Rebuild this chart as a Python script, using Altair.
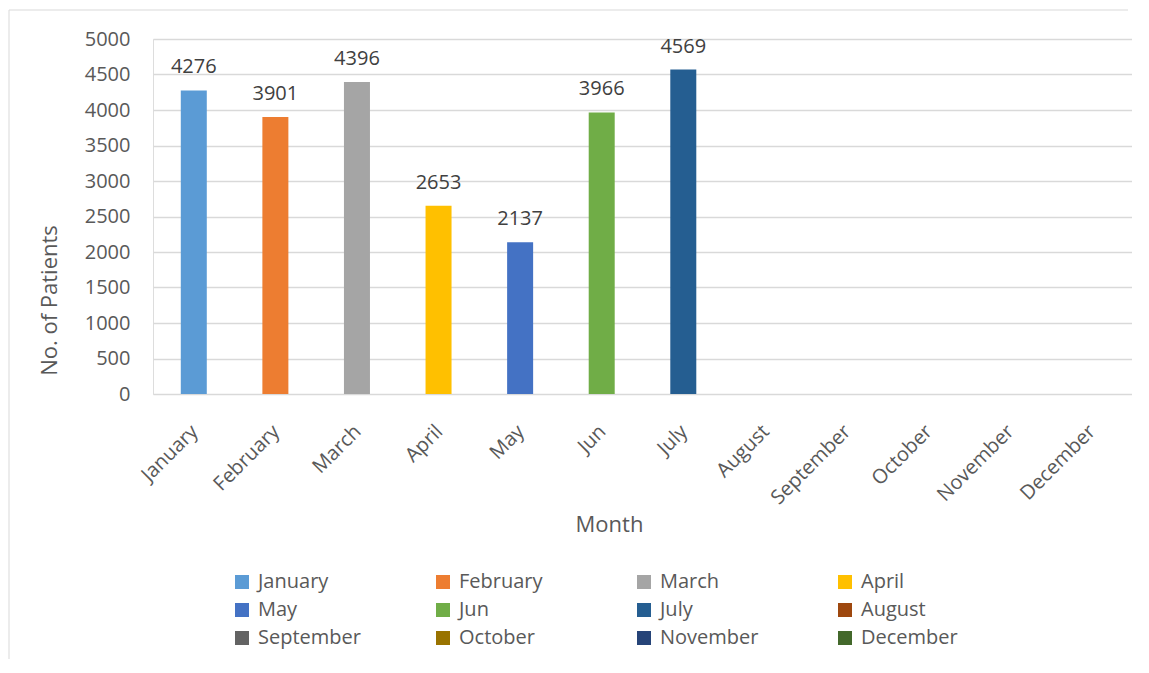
import altair as alt
import pandas as pd

months = ["January", "February", "March", "April", "May", "Jun", "July",
          "August", "September", "October", "November", "December"]
patients = [4276, 3901, 4396, 2653, 2137, 3966, 4569, None, None, None, None, None]
colors = ["#5B9BD5", "#ED7D31", "#A5A5A5", "#FFC000", "#4472C4", "#70AD47",
          "#255E91", "#9E480E", "#636363", "#997300", "#264478", "#43682B"]
y_ticks = list(range(0, 5001, 500))

df = pd.DataFrame({"Month": months, "Patients": patients})

FONT = "Open Sans"
W, H = 979, 355

x_enc = alt.X("Month:N", sort=months,
              scale=alt.Scale(domain=months, paddingInner=0, paddingOuter=0),
              axis=alt.Axis(title="Month", labelAngle=-45, labelFontSize=20,
                            labelColor="#595959", labelFont=FONT, ticks=False,
                            domain=False, labelPadding=27, labelOffset=-6,
                            titleFontSize=22, titleColor="#595959", titleFont=FONT,
                            titleFontWeight="normal", titleX=456, titleY=137,
                            titleAlign="center", titleBaseline="alphabetic"))
y_enc = alt.Y("Patients:Q",
              scale=alt.Scale(domain=[0, 5000], nice=False),
              axis=alt.Axis(title="No. of Patients", values=y_ticks, format="d",
                            labelFontSize=20,
                            labelColor="#595959", labelFont=FONT, ticks=False,
                            domain=False, labelPadding=23, grid=True,
                            gridColor="#D9D9D9", gridWidth=1.5,
                            titleFontSize=22, titleColor="#595959", titleFont=FONT,
                            titleFontWeight="normal", titleX=-104, titleY=261,
                            titleAngle=-90, titleAlign="center", titleBaseline="middle"))
color_enc = alt.Color("Month:N", sort=months,
                      scale=alt.Scale(domain=months, range=colors),
                      legend=alt.Legend(title=None, orient="none", legendX=79, legendY=533,
                                        direction="horizontal",
                                        columns=4, columnPadding=72, rowPadding=8,
                                        gridAlign="all", symbolType="square",
                                        symbolSize=196, symbolStrokeWidth=0,
                                        labelFontSize=20, labelColor="#595959",
                                        labelFont=FONT, labelOffset=6, labelLimit=300,
                                        padding=0))

bars = alt.Chart(df).mark_bar(size=26).encode(x=x_enc, y=y_enc, color=color_enc)
labels = alt.Chart(df).mark_text(dy=-17, baseline="alphabetic", fontSize=20,
                                 color="#404040", font=FONT).encode(
    x=x_enc, y=y_enc, text="Patients:Q")

frame_df = pd.DataFrame({"k": [0]})
top_line = alt.Chart(frame_df).mark_rule(color="#D9D9D9", strokeWidth=1).encode(
    x=alt.value(-144), x2=alt.value(975), y=alt.value(-29))
left_line = alt.Chart(frame_df).mark_rule(color="#D9D9D9", strokeWidth=1).encode(
    x=alt.value(-144), y=alt.value(-29), y2=alt.value(620))

chart = alt.layer(bars, labels, top_line, left_line).properties(
    width=W, height=H,
    padding={"left": 0, "top": 1, "right": 0, "bottom": 0}
).configure_view(stroke=None).configure(background="white")

chart.save("out.html", embed_options={"renderer": "svg", "actions": False})
